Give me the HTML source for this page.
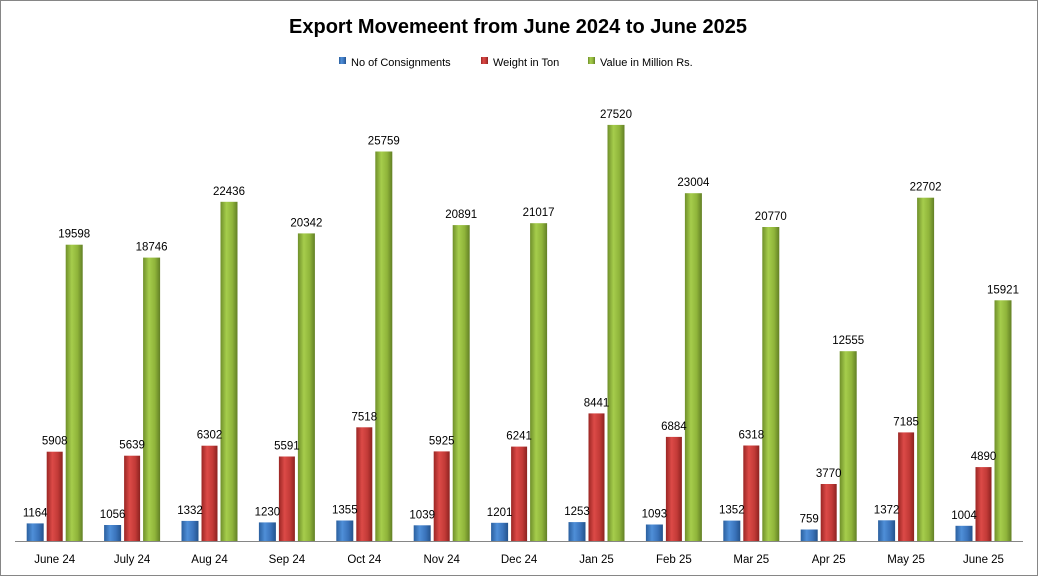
<!DOCTYPE html>
<html><head><meta charset="utf-8"><style>
body{margin:0;background:#fff}
svg{display:block;font-family:"Liberation Sans",Arial,sans-serif}
</style></head><body>
<svg width="1038" height="576" viewBox="0 0 1038 576">
<defs>
<linearGradient id="gb" x1="0" x2="1" y1="0" y2="0"><stop offset="0" stop-color="#2a5f9e"/><stop offset="0.35" stop-color="#4f8fd8"/><stop offset="0.7" stop-color="#3a73bb"/><stop offset="1" stop-color="#24538c"/></linearGradient>
<linearGradient id="gr" x1="0" x2="1" y1="0" y2="0"><stop offset="0" stop-color="#9a2624"/><stop offset="0.35" stop-color="#dc4a47"/><stop offset="0.7" stop-color="#c23a37"/><stop offset="1" stop-color="#8c2220"/></linearGradient>
<linearGradient id="gg" x1="0" x2="1" y1="0" y2="0"><stop offset="0" stop-color="#6f8f2a"/><stop offset="0.35" stop-color="#a6cd4c"/><stop offset="0.7" stop-color="#8fb43a"/><stop offset="1" stop-color="#627f25"/></linearGradient>
</defs>
<rect x="0.5" y="0.5" width="1037" height="575" fill="#fff" stroke="#868686"/>
<text x="518" y="33" text-anchor="middle" font-size="20" font-weight="bold" fill="#000">Export Movemeent from June 2024 to June 2025</text>
<g font-size="11" fill="#000">
<rect x="339" y="57" width="7" height="7" fill="url(#gb)"/><text x="351" y="66">No of Consignments</text>
<rect x="481" y="57" width="7" height="7" fill="url(#gr)"/><text x="493" y="66">Weight in Ton</text>
<rect x="588" y="57" width="7" height="7" fill="url(#gg)"/><text x="600" y="66">Value in Million Rs.</text>
</g>
<line x1="15" y1="541.5" x2="1023" y2="541.5" stroke="#868686"/>
<g font-size="11.5" text-anchor="middle" fill="#000">
<g transform="translate(54.7,541)"><rect x="-28" y="-17.6" width="17" height="17.6" fill="url(#gb)"/><rect x="-8" y="-89.3" width="16" height="89.3" fill="url(#gr)"/><rect x="11" y="-296.3" width="17" height="296.3" fill="url(#gg)"/><text x="-19.5" y="-24.6">1164</text><text x="0" y="-96.3">5908</text><text x="19.5" y="-303.3">19598</text><text x="0" y="22">June 24</text></g>
<g transform="translate(132.1,541)"><rect x="-28" y="-16" width="17" height="16" fill="url(#gb)"/><rect x="-8" y="-85.3" width="16" height="85.3" fill="url(#gr)"/><rect x="11" y="-283.4" width="17" height="283.4" fill="url(#gg)"/><text x="-19.5" y="-23">1056</text><text x="0" y="-92.3">5639</text><text x="19.5" y="-290.4">18746</text><text x="0" y="22">July 24</text></g>
<g transform="translate(209.5,541)"><rect x="-28" y="-20.1" width="17" height="20.1" fill="url(#gb)"/><rect x="-8" y="-95.3" width="16" height="95.3" fill="url(#gr)"/><rect x="11" y="-339.2" width="17" height="339.2" fill="url(#gg)"/><text x="-19.5" y="-27.1">1332</text><text x="0" y="-102.3">6302</text><text x="19.5" y="-346.2">22436</text><text x="0" y="22">Aug 24</text></g>
<g transform="translate(286.9,541)"><rect x="-28" y="-18.6" width="17" height="18.6" fill="url(#gb)"/><rect x="-8" y="-84.5" width="16" height="84.5" fill="url(#gr)"/><rect x="11" y="-307.6" width="17" height="307.6" fill="url(#gg)"/><text x="-19.5" y="-25.6">1230</text><text x="0" y="-91.5">5591</text><text x="19.5" y="-314.6">20342</text><text x="0" y="22">Sep 24</text></g>
<g transform="translate(364.3,541)"><rect x="-28" y="-20.5" width="17" height="20.5" fill="url(#gb)"/><rect x="-8" y="-113.7" width="16" height="113.7" fill="url(#gr)"/><rect x="11" y="-389.5" width="17" height="389.5" fill="url(#gg)"/><text x="-19.5" y="-27.5">1355</text><text x="0" y="-120.7">7518</text><text x="19.5" y="-396.5">25759</text><text x="0" y="22">Oct 24</text></g>
<g transform="translate(441.7,541)"><rect x="-28" y="-15.7" width="17" height="15.7" fill="url(#gb)"/><rect x="-8" y="-89.6" width="16" height="89.6" fill="url(#gr)"/><rect x="11" y="-315.9" width="17" height="315.9" fill="url(#gg)"/><text x="-19.5" y="-22.7">1039</text><text x="0" y="-96.6">5925</text><text x="19.5" y="-322.9">20891</text><text x="0" y="22">Nov 24</text></g>
<g transform="translate(519.1,541)"><rect x="-28" y="-18.2" width="17" height="18.2" fill="url(#gb)"/><rect x="-8" y="-94.4" width="16" height="94.4" fill="url(#gr)"/><rect x="11" y="-317.8" width="17" height="317.8" fill="url(#gg)"/><text x="-19.5" y="-25.2">1201</text><text x="0" y="-101.4">6241</text><text x="19.5" y="-324.8">21017</text><text x="0" y="22">Dec 24</text></g>
<g transform="translate(596.5,541)"><rect x="-28" y="-18.9" width="17" height="18.9" fill="url(#gb)"/><rect x="-8" y="-127.6" width="16" height="127.6" fill="url(#gr)"/><rect x="11" y="-416.1" width="17" height="416.1" fill="url(#gg)"/><text x="-19.5" y="-25.9">1253</text><text x="0" y="-134.6">8441</text><text x="19.5" y="-423.1">27520</text><text x="0" y="22">Jan 25</text></g>
<g transform="translate(673.9,541)"><rect x="-28" y="-16.5" width="17" height="16.5" fill="url(#gb)"/><rect x="-8" y="-104.1" width="16" height="104.1" fill="url(#gr)"/><rect x="11" y="-347.8" width="17" height="347.8" fill="url(#gg)"/><text x="-19.5" y="-23.5">1093</text><text x="0" y="-111.1">6884</text><text x="19.5" y="-354.8">23004</text><text x="0" y="22">Feb 25</text></g>
<g transform="translate(751.3,541)"><rect x="-28" y="-20.4" width="17" height="20.4" fill="url(#gb)"/><rect x="-8" y="-95.5" width="16" height="95.5" fill="url(#gr)"/><rect x="11" y="-314" width="17" height="314" fill="url(#gg)"/><text x="-19.5" y="-27.4">1352</text><text x="0" y="-102.5">6318</text><text x="19.5" y="-321">20770</text><text x="0" y="22">Mar 25</text></g>
<g transform="translate(828.7,541)"><rect x="-28" y="-11.5" width="17" height="11.5" fill="url(#gb)"/><rect x="-8" y="-57" width="16" height="57" fill="url(#gr)"/><rect x="11" y="-189.8" width="17" height="189.8" fill="url(#gg)"/><text x="-19.5" y="-18.5">759</text><text x="0" y="-64">3770</text><text x="19.5" y="-196.8">12555</text><text x="0" y="22">Apr 25</text></g>
<g transform="translate(906.1,541)"><rect x="-28" y="-20.7" width="17" height="20.7" fill="url(#gb)"/><rect x="-8" y="-108.6" width="16" height="108.6" fill="url(#gr)"/><rect x="11" y="-343.3" width="17" height="343.3" fill="url(#gg)"/><text x="-19.5" y="-27.7">1372</text><text x="0" y="-115.6">7185</text><text x="19.5" y="-350.3">22702</text><text x="0" y="22">May 25</text></g>
<g transform="translate(983.5,541)"><rect x="-28" y="-15.2" width="17" height="15.2" fill="url(#gb)"/><rect x="-8" y="-73.9" width="16" height="73.9" fill="url(#gr)"/><rect x="11" y="-240.7" width="17" height="240.7" fill="url(#gg)"/><text x="-19.5" y="-22.2">1004</text><text x="0" y="-80.9">4890</text><text x="19.5" y="-247.7">15921</text><text x="0" y="22">June 25</text></g>
</g>
</svg>
</body></html>
